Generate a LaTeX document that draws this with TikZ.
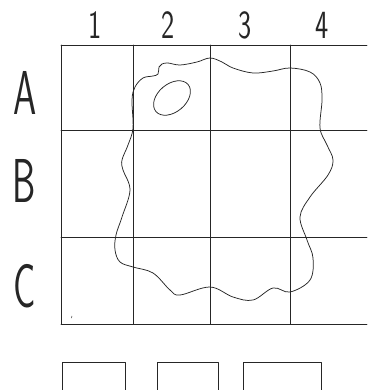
\documentclass[tikz,border=0pt]{standalone}
\begin{document}
\begin{tikzpicture}[x=1pt,y=-1pt,
  pen/.style={draw=black!85,line width=0.75pt,line cap=round,line join=round},
  collabel/.style={font=\sffamily\fontsize{40}{40}\selectfont,text=black!85,xscale=0.7,transform shape,inner sep=0pt},
  rowlabel/.style={font=\sffamily\fontsize{62}{62}\selectfont,text=black!85,xscale=0.6,transform shape,inner sep=0pt}]
\useasboundingbox (0,0) rectangle (367,390);
% grid
\draw[pen] (61,45) -- (367,45);
\draw[pen] (61,130) -- (367,130);
\draw[pen] (61,237) -- (367,237);
\draw[pen] (61,324) -- (367,324);
\draw[pen] (61,45) -- (61,324);
\draw[pen] (133,45) -- (133,324);
\draw[pen] (210,45) -- (210,324);
\draw[pen] (290,45) -- (290,324);
% labels
\node[collabel] (c1) at (95,25) {1};
\node[collabel] (c2) at (168,25) {2};
\node[collabel] (c3) at (245,25) {3};
\node[collabel] (c4) at (322,25) {4};
\node[rowlabel] (rA) at (25,93) {A};
\node[rowlabel] (rB) at (24,181) {B};
\node[rowlabel] (rC) at (25,286) {C};
% blob
\draw[pen] plot[smooth cycle,tension=0.6] coordinates {
 (132,100) (135,87) (143,78) (153,76) (158,74) (159,67) (162,64) (168,63)
 (180,65) (197,62) (210,58) (222,62) (233,68) (253,73) (273,71) (290,68)
 (310,72) (320,83) (322,100) (320,128) (327,145) (333,160) (328,175)
 (310,197) (300,217) (307,240) (313,258) (310,280) (290,292) (273,288)
 (253,300) (233,297) (210,287) (180,295) (170,290) (153,273) (133,267)
 (120,262) (115,250) (116,235) (122,217) (130,190) (123,170) (122,160)
 (128,145) (133,128)};
% small ellipse
\draw[pen] (172,98) ellipse[x radius=21, y radius=14, rotate=40];
% tiny mark
\draw[pen,line width=0.5pt] (72,316) -- (71.5,318);
% bottom boxes
\draw[pen] (62,392) -- (62,362) -- (125,362) -- (125,392);
\draw[pen] (157,392) -- (157,362) -- (218,362) -- (218,392);
\draw[pen] (243,392) -- (243,362) -- (321,362) -- (321,392);
\end{tikzpicture}
\end{document}
